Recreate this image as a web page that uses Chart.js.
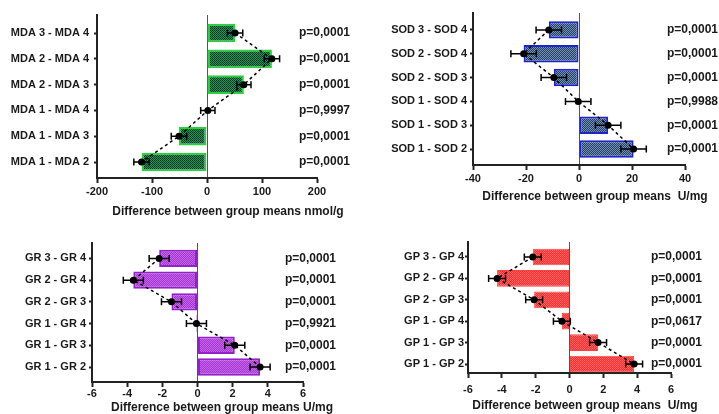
<!DOCTYPE html>
<html>
<head>
<meta charset="utf-8">
<script src="https://cdn.jsdelivr.net/npm/chart.js@4.4.1/dist/chart.umd.min.js"></script>
<style>
  body { margin: 0; background: #fff; }
  #wrap { position: relative; width: 719px; height: 414px; overflow: hidden; }
  canvas { position: absolute; }
</style>
</head>
<body>
<div id="wrap">
  <canvas id="mdaChart" width="360" height="222" style="left:0;top:0"></canvas>
  <canvas id="sodChart" width="359" height="222" style="left:360px;top:0"></canvas>
  <canvas id="grChart" width="360" height="204" style="left:0;top:210px"></canvas>
  <canvas id="gpChart" width="359" height="204" style="left:360px;top:210px"></canvas>
</div>
<script>
// values, top row first
const mdaLabels = ['MDA 3 - MDA 4', 'MDA 2 - MDA 4', 'MDA 2 - MDA 3', 'MDA 1 - MDA 4', 'MDA 1 - MDA 3', 'MDA 1 - MDA 2'];
const mdaDiff = [51, 118, 67, 1.5, -51, -119];
const mdaErr = [14, 14, 13, 13, 14, 14];
const mdaP = ['p=0,0001', 'p=0,0001', 'p=0,0001', 'p=0,9997', 'p=0,0001', 'p=0,0001'];
const mdaTicks = [-200, -100, 0, 100, 200];

const sodLabels = ['SOD 3 - SOD 4', 'SOD 2 - SOD 4', 'SOD 2 - SOD 3', 'SOD 1 - SOD 4', 'SOD 1 - SOD 3', 'SOD 1 - SOD 2'];
const sodDiff = [-11.4, -20.9, -9.5, -0.3, 11, 20.6];
const sodErr = [4.8, 4.8, 4.8, 4.8, 4.8, 4.8];
const sodP = ['p=0,0001', 'p=0,0001', 'p=0,0001', 'p=0,9988', 'p=0,0001', 'p=0,0001'];
const sodTicks = [-40, -20, 0, 20, 40];

const grLabels = ['GR 3 - GR 4', 'GR 2 - GR 4', 'GR 2 - GR 3', 'GR 1 - GR 4', 'GR 1 - GR 3', 'GR 1 - GR 2'];
const grDiff = [-2.18, -3.65, -1.48, -0.06, 2.12, 3.56];
const grErr = [0.57, 0.57, 0.57, 0.57, 0.57, 0.57];
const grP = ['p=0,0001', 'p=0,0001', 'p=0,0001', 'p=0,9921', 'p=0,0001', 'p=0,0001'];
const grTicks = [-6, -4, -2, 0, 2, 4, 6];

const gpLabels = ['GP 3 - GP 4', 'GP 2 - GP 4', 'GP 2 - GP 3', 'GP 1 - GP 4', 'GP 1 - GP 3', 'GP 1 - GP 2'];
const gpDiff = [-2.17, -4.28, -2.09, -0.45, 1.69, 3.82];
const gpErr = [0.5, 0.5, 0.5, 0.5, 0.5, 0.5];
const gpP = ['p=0,0001', 'p=0,0001', 'p=0,0001', 'p=0,0617', 'p=0,0001', 'p=0,0001'];
const gpTicks = [-6, -4, -2, 0, 2, 4, 6];

const FONT = '"Liberation Sans", Arial, Helvetica, sans-serif';
Chart.defaults.font.family = FONT;
Chart.defaults.color = '#1a1a1a';

// tiny checker pattern, like the halftone fill in the original
function checker(c1, c2) {
    const pc = document.createElement('canvas');
    pc.width = 2; pc.height = 2;
    const g = pc.getContext('2d');
    g.fillStyle = c1; g.fillRect(0, 0, 2, 2);
    g.fillStyle = c2; g.fillRect(0, 0, 1, 1); g.fillRect(1, 1, 1, 1);
    return g.createPattern(pc, 'repeat');
}

// error bars, p-values and the axis title
function extras(cfg) {
    return {
        id: 'extras',
        afterDatasetsDraw(chart) {
            const { ctx, scales: { x, y } } = chart;
            ctx.save();
            ctx.strokeStyle = '#000';
            ctx.lineWidth = 1.5;
            cfg.diff.forEach((v, i) => {
                const py = y.getPixelForValue(i);
                const a = x.getPixelForValue(v - cfg.err[i]);
                const b = x.getPixelForValue(v + cfg.err[i]);
                ctx.beginPath();
                ctx.moveTo(a, py); ctx.lineTo(b, py);
                ctx.moveTo(a, py - 3.5); ctx.lineTo(a, py + 3.5);
                ctx.moveTo(b, py - 3.5); ctx.lineTo(b, py + 3.5);
                ctx.stroke();
            });
            ctx.fillStyle = '#1a1a1a';
            ctx.font = 'bold 12px ' + FONT;
            ctx.textAlign = 'right';
            ctx.textBaseline = 'middle';
            cfg.p.forEach((t, i) => ctx.fillText(t, cfg.pRight, y.getPixelForValue(i)));
            ctx.textAlign = 'center';
            ctx.fillText(cfg.title, cfg.titleX, cfg.titleY);
            ctx.restore();
        }
    };
}

function makeChart(id, cfg) {
    const pts = cfg.diff.map((v, i) => ({ x: v, y: i }));
    new Chart(document.getElementById(id), {
        type: 'bar',
        data: {
            datasets: [
                {
                    type: 'line',
                    data: pts,
                    borderColor: '#000',
                    borderWidth: 1.5,
                    borderDash: [3, 3],
                    pointRadius: 3.5,
                    pointBackgroundColor: '#000',
                    pointBorderWidth: 0,
                    fill: false,
                    order: 0
                },
                {
                    type: 'bar',
                    data: pts,
                    backgroundColor: checker(cfg.c1, cfg.c2),
                    borderColor: cfg.border,
                    borderWidth: cfg.bw,
                    borderSkipped: false,
                    barPercentage: cfg.bp,
                    categoryPercentage: 1,
                    order: 1
                }
            ]
        },
        options: {
            responsive: false,
            animation: false,
            indexAxis: 'y',
            layout: { padding: { left: 0, right: cfg.padRight, top: cfg.padTop, bottom: 0 } },
            plugins: { legend: { display: false }, tooltip: { enabled: false } },
            scales: {
                x: {
                    type: 'linear',
                    position: 'bottom',
                    offset: false,
                    min: cfg.ticks[0],
                    max: cfg.ticks[cfg.ticks.length - 1],
                    afterBuildTicks: s => { s.ticks = cfg.ticks.map(v => ({ value: v })); },
                    afterFit: s => { s.height = cfg.xHeight; },
                    ticks: { font: { size: 11, weight: 'bold' }, padding: cfg.xPad, maxRotation: 0 },
                    grid: {
                        offset: false,
                        color: c => (c.tick && c.tick.value === 0) ? '#555' : 'rgba(0,0,0,0)',
                        borderDash: [1, 2],
                        lineWidth: 1,
                        tickColor: '#222',
                        tickLength: 5,
                        tickWidth: 2,
                        tickBorderDash: []
                    },
                    border: { color: '#222', width: 2 }
                },
                y: {
                    type: 'linear',
                    position: 'left',
                    offset: false,
                    reverse: true,
                    min: cfg.yMin,
                    max: cfg.yMax,
                    afterBuildTicks: s => { s.ticks = cfg.labels.map((_, i) => ({ value: i })); },
                    afterFit: s => { s.width = cfg.yWidth; },
                    ticks: {
                        autoSkip: false,
                        font: { size: 11, weight: 'bold' },
                        padding: cfg.yPad,
                        callback: v => cfg.labels[v]
                    },
                    grid: { offset: false, drawOnChartArea: false, tickColor: '#222', tickLength: 3, tickWidth: 2 },
                    border: { color: '#222', width: 2 }
                }
            }
        },
        plugins: [extras(cfg)]
    });
}

makeChart('mdaChart', {
    labels: mdaLabels, diff: mdaDiff, err: mdaErr, p: mdaP, ticks: mdaTicks,
    c1: '#189a4c', c2: '#0a3430', border: '#2ad13c', bw: 2, bp: 0.72,
    yWidth: 97, padRight: 43, padTop: 15, xHeight: 44, yMin: -0.70, yMax: 5.62,
    xPad: 2, yPad: 5, pRight: 350,
    title: 'Difference between group means nmol/g', titleX: 228, titleY: 212
});

makeChart('sodChart', {
    labels: sodLabels, diff: sodDiff, err: sodErr, p: sodP, ticks: sodTicks,
    c1: '#22406c', c2: '#7690b0', border: '#1e24cc', bw: 2, bp: 0.73,
    yWidth: 113, padRight: 34, padTop: 13, xHeight: 57, yMin: -0.71, yMax: 5.67,
    xPad: 2, yPad: 3, pRight: 358,
    title: 'Difference between group means  U/mg', titleX: 235, titleY: 197
});

makeChart('grChart', {
    labels: grLabels, diff: grDiff, err: grErr, p: grP, ticks: grTicks,
    c1: '#a636d0', c2: '#c464ea', border: '#9420c8', bw: 2, bp: 0.8,
    yWidth: 92, padRight: 57, padTop: 33, xHeight: 32, yMin: -0.71, yMax: 5.69,
    xPad: 0, yPad: 3, pRight: 336,
    title: 'Difference between group means U/mg', titleX: 222, titleY: 198
});

makeChart('gpChart', {
    labels: gpLabels, diff: gpDiff, err: gpErr, p: gpP, ticks: gpTicks,
    c1: '#ff2e2e', c2: '#ff6464', border: '#ff4242', bw: 1, bp: 0.78,
    yWidth: 108, padRight: 48, padTop: 32, xHeight: 41, yMin: -0.70, yMax: 5.42,
    xPad: 5, yPad: 1, pRight: 342,
    title: 'Difference between group means  U/mg', titleX: 225, titleY: 196
});
</script>
</body>
</html>
